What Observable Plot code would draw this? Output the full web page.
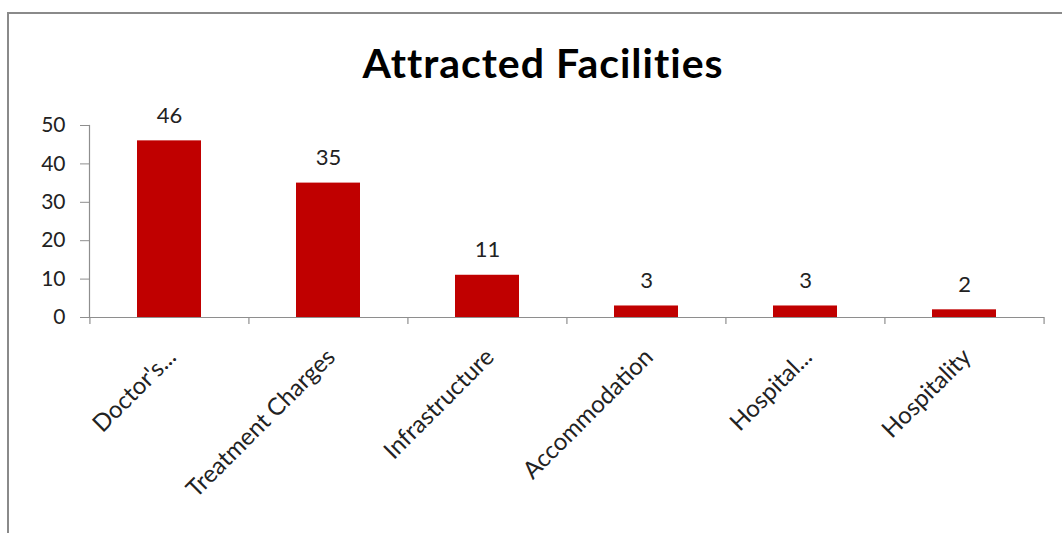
<!DOCTYPE html>
<html>
<head>
<meta charset="utf-8">
<script src="https://cdn.jsdelivr.net/npm/d3@7"></script>
<script src="https://cdn.jsdelivr.net/npm/@observablehq/plot@0.6"></script>
<style>
  html, body { margin: 0; padding: 0; background: #fff; overflow: hidden; width: 1062px; height: 533px; }
  #frame { position: absolute; left: 7px; top: 12px; width: 1100px; height: 600px; border: 2px solid #8a8a8a; box-sizing: border-box; }
  #title { position: absolute; left: 0; top: 0; width: 1086px; height: 100px; text-align: center; font-family: Lato, sans-serif; font-weight: bold; font-size: 41px; letter-spacing: 1px; font-variant-ligatures: none; line-height: 126px; color: #000; }
  #chart { position: absolute; left: 0; top: 100px; }
</style>
</head>
<body>
<div id="frame"></div>
<div id="title">Attracted Facilities</div>
<div id="chart"></div>
<script>
// Facilities that attracted respondents, with counts
const categories = ["Doctor's...", "Treatment Charges", "Infrastructure", "Accommodation", "Hospital...", "Hospitality"];
const counts = [46, 35, 11, 3, 3, 2];
const yTicks = [0, 10, 20, 30, 40, 50];

const rows = categories.map((c, i) => ({category: c, count: counts[i]}));

const width = 1062, height = 433;
const marginLeft = 89, marginRight = 18, marginTop = 25, marginBottom = 216;
const step = (width - marginLeft - marginRight) / categories.length;
const axisColor = "#8e8e8e";
const font = "Lato, sans-serif";

const chart = Plot.plot({
  width, height, marginLeft, marginRight, marginTop, marginBottom,
  style: {fontFamily: font, fontSize: "21px", color: "#222", background: "transparent", overflow: "visible"},
  x: {domain: categories, paddingInner: 0.6, paddingOuter: 0.3, axis: null},
  y: {domain: [0, 50], axis: null},
  marks: [
    // value axis
    Plot.axisY({ticks: yTicks, tickSize: 9, tickPadding: 15, label: null, stroke: axisColor, fontSize: 21, fill: "#222"}),
    Plot.frame({anchor: "left", stroke: axisColor, strokeWidth: 1.2}),
    // bars
    Plot.barY(rows, {x: "category", y: "count", fill: "#C00000"}),
    // category axis line and boundary ticks
    Plot.ruleY([0], {stroke: axisColor, strokeWidth: 1.2}),
    Plot.ruleX(categories, {x: d => d, y1: () => 0, y2: () => 0, dx: -step / 2, insetBottom: -7, stroke: axisColor, strokeWidth: 1.2}),
    Plot.ruleX(categories.slice(-1), {x: d => d, y1: () => 0, y2: () => 0, dx: step / 2, insetBottom: -7, stroke: axisColor, strokeWidth: 1.2}),
    // value labels
    Plot.text(rows, {x: "category", y: "count", text: d => String(d.count), dy: -25, lineAnchor: "middle", fontSize: 22, fill: "#222"}),
    // rotated category labels
    Plot.text(rows, {x: "category", y: () => 0, text: "category", rotate: -45, textAnchor: "end", lineAnchor: "top", dx: -4, dy: 29, fontSize: 24, fill: "#222"})
  ]
});
document.getElementById("chart").appendChild(chart);
</script>
</body>
</html>
